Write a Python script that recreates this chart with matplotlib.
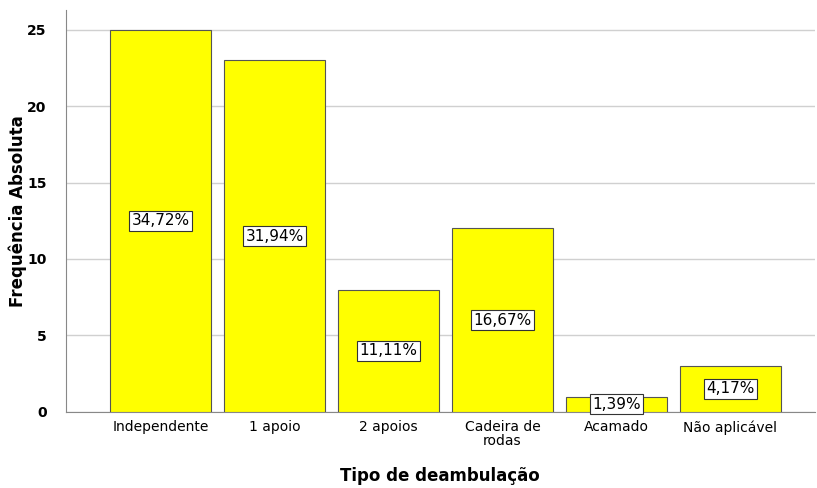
import numpy as np
import matplotlib.pyplot as plt

categorias = ['Independente', '1 apoio', '2 apoios', 'Cadeira de\nrodas', 'Acamado', 'Não aplicável']
frequencias = [25, 23, 8, 12, 1, 3]
percentuais = ['34,72', '31,94', '11,11', '16,67', '1,39', '4,17']
y_ticks = [0, 5, 10, 15, 20, 25]

fig = plt.figure(figsize=(8.17, 4.88), dpi=100)
ax = fig.add_axes([0.081, 0.156, 0.916, 0.824])

x = np.arange(len(categorias))
ax.bar(x, frequencias, width=0.89, color='#ffff00', edgecolor='#555555', linewidth=0.8, zorder=3)

# Rotulos de percentagem no meio de cada barra
for xi, f, p in zip(x, frequencias, percentuais):
    ax.text(xi, f / 2, p + '%', ha='center', va='center', fontsize=11, zorder=4,
            bbox=dict(boxstyle='square,pad=0.15', facecolor='white', edgecolor='#333333', linewidth=0.8))

ax.set_xlim(-0.83, 5.74)
ax.set_ylim(0, 26.3)
ax.set_xticks(x)
ax.set_xticklabels(categorias, fontsize=10, linespacing=0.95)
ax.set_yticks(y_ticks)
ax.set_yticklabels([str(t) for t in y_ticks], fontsize=10, fontweight='bold')
ax.tick_params(length=0, pad=6)
ax.tick_params(axis='y', pad=14)

ax.yaxis.grid(True, color='#d0d0d0', linewidth=1, zorder=0)
ax.set_axisbelow(True)
for s in ['top', 'right']:
    ax.spines[s].set_visible(False)
ax.spines['left'].set_color('#888888')
ax.spines['bottom'].set_color('#888888')

ax.set_xlabel('Tipo de deambulação', fontsize=12, fontweight='bold', labelpad=14)
ax.set_ylabel('Frequência Absoluta', fontsize=12, fontweight='bold')
ax.yaxis.set_label_coords(-0.052, 0.5)

fig.savefig('out.png', dpi=100)
